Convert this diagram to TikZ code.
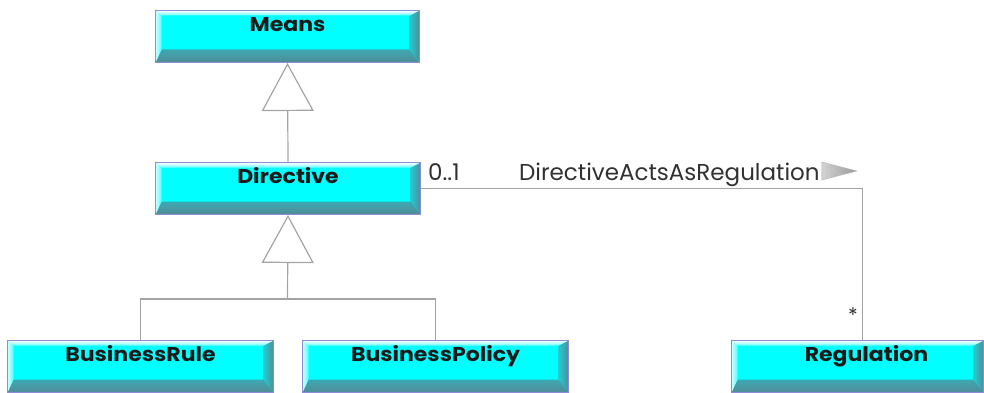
\documentclass[tikz,border=0pt]{standalone}
\usepackage{fontspec}
\setmainfont{Poppins}
\newfontfamily\clsfont[FakeStretch=1.1]{Poppins}
\usetikzlibrary{arrows.meta,calc}
\definecolor{boxcyan}{HTML}{00FFFF}
\definecolor{boxedge}{HTML}{8C8CD8}
\definecolor{bevdark}{HTML}{508C98}
\definecolor{bevlight}{HTML}{D0FFFF}
\definecolor{linegray}{HTML}{A4A4A4}
\definecolor{textdark}{HTML}{1A1A1A}
\tikzset{
  x=1pt, y=1pt,
  cls/.style={draw=boxedge, line width=1pt, fill=boxcyan, minimum height=52pt,
    inner sep=0pt, anchor=north west, text=textdark,
    font=\clsfont\bfseries\fontsize{20}{20}\selectfont, text height=16pt, text depth=26pt,
    path picture={
      \shade[bottom color=bevdark, top color=boxcyan]
        let \p1=(path picture bounding box.north west), \p2=(path picture bounding box.south east) in
        (\x1,\y2) -- (\x2,\y2) -- (\x2-10,\y2+13) -- (\x1+6,\y2+13) -- cycle;
      \shade[left color=boxcyan!55!bevdark, right color=bevdark]
        let \p1=(path picture bounding box.north west), \p2=(path picture bounding box.south east) in
        (\x2,\y1) -- (\x2,\y2) -- (\x2-10,\y2+13) -- (\x2-10,\y1-5) -- cycle;
      \shade[left color=bevlight, right color=boxcyan!70!white]
        let \p1=(path picture bounding box.north west), \p2=(path picture bounding box.south east) in
        (\x1,\y1) -- (\x1+6,\y1-5) -- (\x1+6,\y2+13) -- (\x1,\y2) -- cycle;
      \shade[top color=white, bottom color=boxcyan!60!white]
        let \p1=(path picture bounding box.north west), \p2=(path picture bounding box.south east) in
        (\x1,\y1) -- (\x2,\y1) -- (\x2-10,\y1-5) -- (\x1+6,\y1-5) -- cycle;
    }},
  conn/.style={draw=linegray, line width=1.2pt},
  gen/.style={conn, -{Triangle[open, length=48pt, width=52pt, line width=1.2pt]}},
  lbl/.style={font=\fontsize{23}{23}\selectfont, text=textdark!90!white, inner sep=0pt, anchor=base west},
}
\begin{document}
\begin{tikzpicture}
\useasboundingbox (0,0) rectangle (984,-393);
\node[cls, minimum width=264pt] (Means) at (155,-10) {Means};
\node[cls, minimum width=265pt] (Directive) at (155,-162) {Directive};
\node[cls, minimum width=266pt] (BusinessRule) at (7,-340) {BusinessRule};
\node[cls, minimum width=266pt] (BusinessPolicy) at (302,-340) {BusinessPolicy};
\node[cls, minimum width=252pt] (Regulation) at (731,-340) {\hspace*{18pt}Regulation};

\draw[gen] (Directive.north) -- (Means.south);
\coordinate (j) at (287.5,-299);
\draw[conn] (BusinessRule.north) |- (j) -| (BusinessPolicy.north);
\draw[gen] (j) -- (Directive.south);

\coordinate (rtop) at ([xshift=5pt]Regulation.north);
\draw[conn] (Directive.east) -- (Directive.east -| rtop) -- (rtop);

\node[lbl] (mult1) at (428,-180) {0..1};
\node[lbl] (assoc) at (519,-180) {DirectiveActsAsRegulation};
\node[lbl, anchor=center, font=\fontsize{20}{20}\selectfont] (mult2) at (853,-315) {*};
\shade[left color=gray!35, right color=gray!80, draw=gray!60, line width=0.4pt]
  ([xshift=2pt]assoc.base east) -- ++(0,18) -- ++(35,-9) -- cycle;
\end{tikzpicture}
\end{document}
